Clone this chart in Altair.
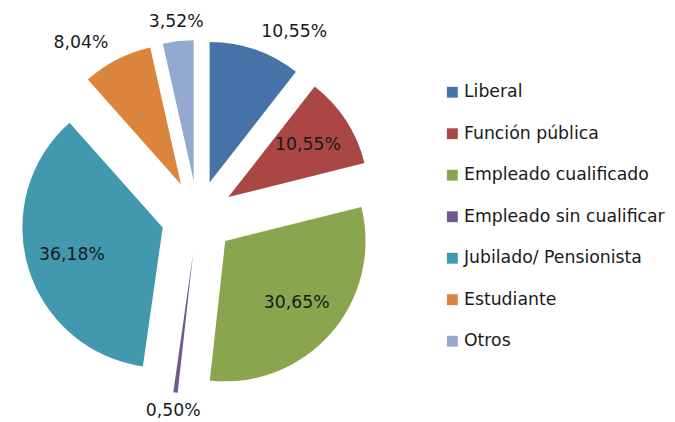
import altair as alt
import pandas as pd

categories = ["Liberal", "Función pública", "Empleado cualificado", "Empleado sin cualificar",
              "Jubilado/ Pensionista", "Estudiante", "Otros"]
values = [10.55, 10.55, 30.65, 0.50, 36.18, 8.04, 3.52]
labels = ["10,55%", "10,55%", "30,65%", "0,50%", "36,18%", "8,04%", "3,52%"]
placement = ["outside", "inside", "inside", "outside", "inside", "outside", "outside"]
colors = ["#4572A7", "#AA4643", "#89A54E", "#71588F", "#4198AF", "#DB843D", "#93A9CF"]

df = pd.DataFrame({"cat": categories, "value": values, "label": labels,
                   "place": placement, "order": list(range(len(categories)))})

CX, CY = 192, 209   # pie centre (px)
R = 142             # radius
D = 37              # explode distance
R_IN = D + 96       # inside label radius
R_OUT = 198         # outside label radius

FONT = "DejaVu Sans"
FS = 17.5

base = alt.Chart(df).transform_window(
    cum="sum(value)", sort=[alt.SortField("order")], frame=[None, 0]
).transform_joinaggregate(total="sum(value)").transform_calculate(
    start="(datum.cum - datum.value) / datum.total * 2 * PI",
    end="datum.cum / datum.total * 2 * PI",
).transform_calculate(
    mid="(datum.start + datum.end) / 2"
).transform_calculate(
    cx=f"{CX} + {D} * sin(datum.mid)",
    cy=f"{CY} - {D} * cos(datum.mid)",
    lr=f"datum.place == 'inside' ? {R_IN} : {R_OUT}",
).transform_calculate(
    lx=f"{CX} + datum.lr * sin(datum.mid)",
    ly=f"{CY} - datum.lr * cos(datum.mid)",
    side="datum.place == 'inside' ? 'c' : (sin(datum.mid) > 0.3 ? 'l' : (sin(datum.mid) < -0.3 ? 'r' : 'c'))",
)

arcs = base.mark_arc(radius=R, stroke=None).encode(
    theta=alt.Theta("start:Q", scale=None, stack=None),
    theta2="end:Q",
    x=alt.X("cx:Q", scale=None, axis=None),
    y=alt.Y("cy:Q", scale=None, axis=None),
    color=alt.Color("cat:N", scale=alt.Scale(domain=categories, range=colors),
                    sort=categories,
                    legend=alt.Legend(title=None, orient="none", legendX=441, legendY=74,
                                      symbolType="square", symbolSize=121,
                                      symbolStrokeWidth=0, labelFont=FONT,
                                      labelFontSize=FS, labelColor="#1a1a1a",
                                      rowPadding=23, labelOffset=3, padding=0,
                                      labelLimit=400)),
)

def text_layer(side, align):
    return base.transform_filter(f"datum.side == '{side}'").mark_text(
        align=align, baseline="middle", font=FONT, fontSize=FS, color="#1a1a1a"
    ).encode(
        x=alt.X("lx:Q", scale=None, axis=None),
        y=alt.Y("ly:Q", scale=None, axis=None),
        text="label:N",
    )

chart = alt.layer(arcs, text_layer("c", "center"), text_layer("l", "left"),
                  text_layer("r", "right")).properties(
    width=667, height=414, autosize=alt.AutoSizeParams(type="none"), padding=0
).configure_view(stroke=None)

chart.save("out.html", embed_options={"renderer": "svg", "actions": False})
